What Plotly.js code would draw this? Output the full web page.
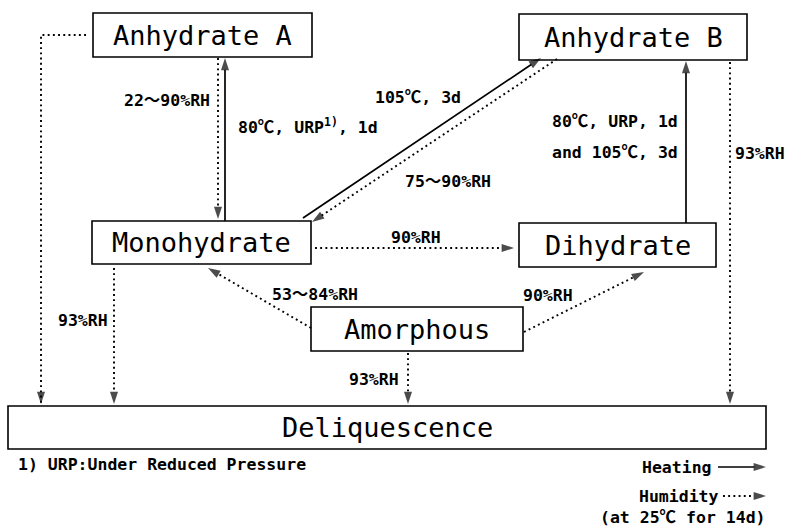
<!DOCTYPE html>
<html><head><meta charset="utf-8">
<script src="https://cdn.plot.ly/plotly-3.0.1.min.js"></script>
<style>html,body{margin:0;padding:0;background:#fff}#chart{width:791px;height:529px}</style>
</head><body><div id="chart"></div>
<script>
// ---------------- DATA ----------------
const nodeNames = ['Anhydrate A', 'Anhydrate B', 'Monohydrate', 'Dihydrate', 'Amorphous', 'Deliquescence'];

const heatFrom = ['Monohydrate', 'Monohydrate', 'Dihydrate'];
const heatTo   = ['Anhydrate A', 'Anhydrate B', 'Anhydrate B'];
const heatCond = [['80℃, URP<sup>1)</sup>, 1d'], ['105℃, 3d'], ['80℃, URP, 1d', 'and 105℃, 3d']];

const humFrom = ['Anhydrate A', 'Anhydrate B', 'Monohydrate', 'Amorphous', 'Amorphous', 'Amorphous', 'Anhydrate A', 'Monohydrate', 'Anhydrate B'];
const humTo   = ['Monohydrate', 'Monohydrate', 'Dihydrate', 'Monohydrate', 'Dihydrate', 'Deliquescence', 'Deliquescence', 'Deliquescence', 'Deliquescence'];
const humCond = [['22〜90%RH'], ['75〜90%RH'], ['90%RH'], ['53〜84%RH'], ['90%RH'], ['93%RH'], [], ['93%RH'], ['93%RH']];

const footnoteText = '1) URP:Under Reduced Pressure';
const keyLabels = ['Heating', 'Humidity'];
const keyNote = '(at 25℃ for 14d)';

// ---------------- GEOMETRY (layout only) ----------------
const W = 791, H = 529;
const boxGeom = {
  'Anhydrate A':   [93, 13, 312, 57],
  'Anhydrate B':   [519, 14, 747, 60],
  'Monohydrate':   [92, 221, 311, 264],
  'Dihydrate':     [519, 223, 716, 267],
  'Amorphous':     [311, 307, 523, 351],
  'Deliquescence': [8, 406, 766, 449]
};
const routes = {
  'Monohydrate>Anhydrate A': [[225, 221], [225, 58]],
  'Monohydrate>Anhydrate B': [[303, 218], [541, 58]],
  'Dihydrate>Anhydrate B':   [[686, 223], [686, 61]],
  'Anhydrate A>Monohydrate': [[218, 58], [218, 219]],
  'Anhydrate B>Monohydrate': [[557, 59], [312, 222]],
  'Monohydrate>Dihydrate':   [[315, 248], [514, 248]],
  'Amorphous>Monohydrate':   [[311, 328], [208, 268]],
  'Amorphous>Dihydrate':     [[524, 332], [644, 272]],
  'Amorphous>Deliquescence': [[408, 353], [408, 404]],
  'Anhydrate A>Deliquescence': [[86, 35], [41, 35], [41, 404]],
  'Monohydrate>Deliquescence': [[114, 268], [114, 404]],
  'Anhydrate B>Deliquescence': [[730, 62], [730, 404]]
};
// label positions: [x, y, xanchor] per line
const labelGeom = {
  'Monohydrate>Anhydrate A': [[236, 126, 'left']],
  'Monohydrate>Anhydrate B': [[463, 97, 'right']],
  'Dihydrate>Anhydrate B':   [[680, 121, 'right'], [680, 152, 'right']],
  'Anhydrate A>Monohydrate': [[212, 100, 'right']],
  'Anhydrate B>Monohydrate': [[403, 181, 'left']],
  'Monohydrate>Dihydrate':   [[389, 237, 'left']],
  'Amorphous>Monohydrate':   [[360, 294, 'right']],
  'Amorphous>Dihydrate':     [[521, 295, 'left']],
  'Amorphous>Deliquescence': [[347, 379, 'left']],
  'Monohydrate>Deliquescence': [[56, 320, 'left']],
  'Anhydrate B>Deliquescence': [[733, 153, 'left']]
};
const keyGeom = {
  lines: [[[718, 467], [766, 467]], [[723, 496], [766, 496]]],
  text: [[714, 467], [721, 496]],
  note: [768, 517]
};

const MONO = '"DejaVu Sans Mono", "Liberation Mono", "Noto Sans CJK JP", monospace';
const bigFont = {family: MONO, size: 27, color: '#000'};
const smallFont = {family: MONO, size: 16.5, color: '#000', weight: 'bold'};
const solidLine = {color: '#000', width: 1.7};
const dotLine = {color: '#000', width: 1.9, dash: '1.9px,3.3px'};

// ---------------- BUILD ----------------
const traces = [];
const annotations = [];
const shapes = [];

function arrowTrace(pts, line) {
  return {
    type: 'scatter', mode: 'lines+markers',
    x: pts.map(p => p[0]), y: pts.map(p => p[1]),
    line: line,
    marker: {symbol: 'arrow', angleref: 'previous', color: '#000',
             size: pts.map((p, i) => i === pts.length - 1 ? 13 : 0), line: {width: 0}},
    hoverinfo: 'skip', showlegend: false
  };
}

nodeNames.forEach(n => {
  const b = boxGeom[n];
  shapes.push({type: 'rect', xref: 'x', yref: 'y', x0: b[0], x1: b[2], y0: b[1], y1: b[3],
               line: {color: '#000', width: 1.6}, fillcolor: 'rgba(0,0,0,0)'});
  annotations.push({xref: 'x', yref: 'y', x: (b[0] + b[2]) / 2, y: (b[1] + b[3]) / 2,
                    text: n, showarrow: false, font: bigFont, xanchor: 'center', yanchor: 'middle'});
});

function addEdges(from, to, cond, line) {
  from.forEach((f, i) => {
    const key = f + '>' + to[i];
    traces.push(arrowTrace(routes[key], line));
    (cond[i] || []).forEach((t, j) => {
      const g = labelGeom[key][j];
      annotations.push({xref: 'x', yref: 'y', x: g[0], y: g[1], text: t, showarrow: false,
                        font: smallFont, xanchor: g[2], yanchor: 'middle'});
    });
  });
}
addEdges(heatFrom, heatTo, heatCond, solidLine);
addEdges(humFrom, humTo, humCond, dotLine);

// key
keyLabels.forEach((k, i) => {
  traces.push(arrowTrace(keyGeom.lines[i], i === 0 ? solidLine : dotLine));
  annotations.push({xref: 'x', yref: 'y', x: keyGeom.text[i][0], y: keyGeom.text[i][1], text: k,
                    showarrow: false, font: smallFont, xanchor: 'right', yanchor: 'middle'});
});
annotations.push({xref: 'x', yref: 'y', x: keyGeom.note[0], y: keyGeom.note[1], text: keyNote,
                  showarrow: false, font: smallFont, xanchor: 'right', yanchor: 'middle'});
annotations.push({xref: 'x', yref: 'y', x: 16, y: 464, text: footnoteText,
                  showarrow: false, font: smallFont, xanchor: 'left', yanchor: 'middle'});

const layout = {
  width: W, height: H,
  margin: {l: 0, r: 0, t: 0, b: 0, pad: 0},
  paper_bgcolor: '#fff', plot_bgcolor: '#fff',
  xaxis: {range: [0, W], visible: false, fixedrange: true},
  yaxis: {range: [H, 0], visible: false, fixedrange: true},
  shapes: shapes, annotations: annotations,
  showlegend: false, hovermode: false
};
Plotly.newPlot('chart', traces, layout, {staticPlot: true, displayModeBar: false});
</script></body></html>
